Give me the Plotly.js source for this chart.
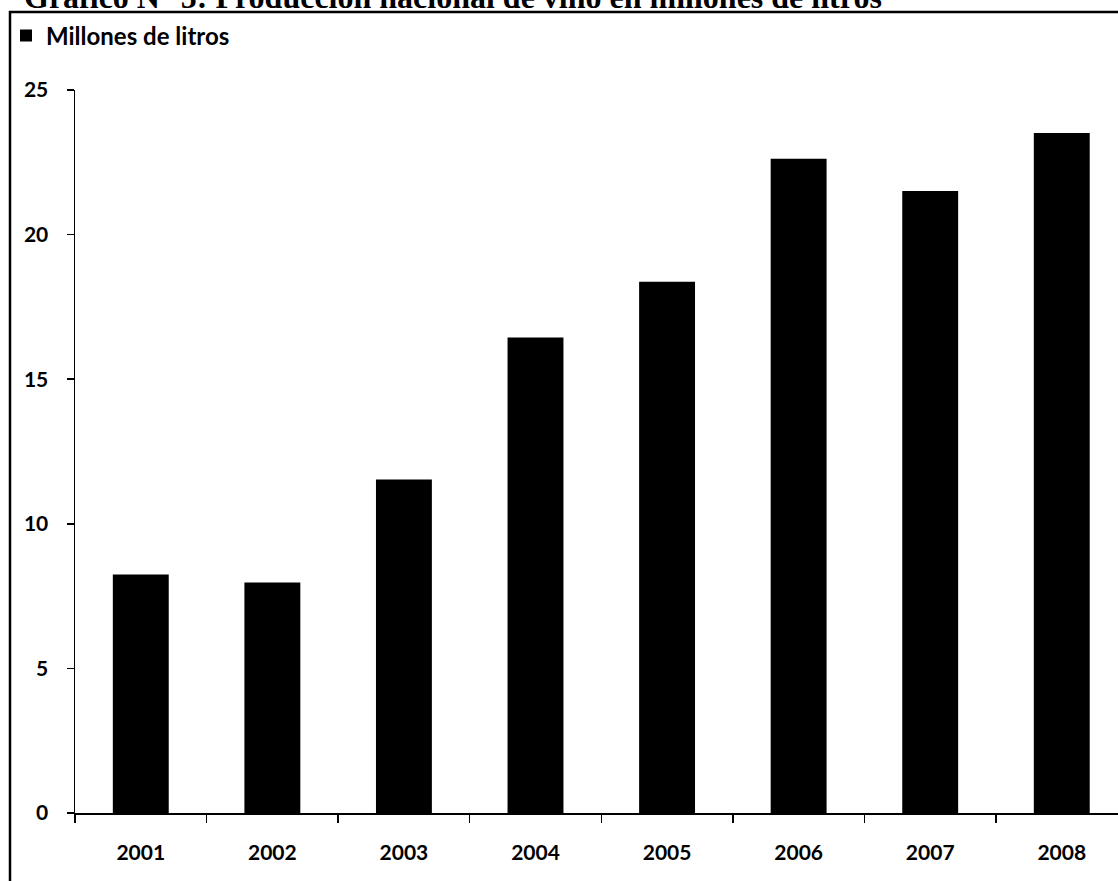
<!DOCTYPE html>
<html>
<head>
<meta charset="utf-8">
<script src="https://cdn.plot.ly/plotly-3.0.1.min.js"></script>
<style>html,body{margin:0;padding:0;background:#fff;}#chart{width:1118px;height:881px;}</style>
</head>
<body>
<div id="chart"></div>
<script>
// Data
const years = ['2001', '2002', '2003', '2004', '2005', '2006', '2007', '2008'];
const millonesLitros = [8.25, 7.97, 11.53, 16.44, 18.37, 22.62, 21.51, 23.51];
const yTicks = [0, 5, 10, 15, 20, 25];
const seriesName = 'Millones de litros';
const chartTitle = 'Gráfico N° 5: Producción nacional de vino en millones de litros';

const W = 1118, H = 881;
const mL = 75, mR = 0, mT = 90, mB = 68;
const pw = W - mL - mR, ph = H - mT - mB;
const px2x = p => (p - mL) / pw;
const py2y = p => (H - mB - p) / ph;

const trace = {
  type: 'bar',
  x: years,
  y: millonesLitros,
  name: seriesName,
  marker: {color: '#000000', line: {width: 0}},
  showlegend: true,
  hoverinfo: 'x+y'
};

const tickFont = {family: 'Lato, "Open Sans", sans-serif', size: 21, color: '#000', weight: 'bold'};

const layout = {
  width: W, height: H, autosize: false,
  margin: {l: mL, r: mR, t: mT, b: mB, pad: 0},
  paper_bgcolor: '#ffffff', plot_bgcolor: '#ffffff',
  bargap: 0.575,
  showlegend: true,
  legend: {
    x: px2x(6), y: py2y(36), xanchor: 'left', yanchor: 'middle',
    font: {family: 'Lato, "Open Sans", sans-serif', size: 24, color: '#000', weight: 'bold'},
    bgcolor: 'rgba(0,0,0,0)', borderwidth: 0
  },
  xaxis: {
    type: 'category',
    range: [-0.5, -0.5 + pw / 131.57],
    tickson: 'boundaries',
    ticks: 'outside', ticklen: 8, tickwidth: 1.5, tickcolor: '#000',
    showline: true, linecolor: '#000', linewidth: 2,
    showgrid: false, zeroline: false,
    tickfont: tickFont,
    ticklabelstandoff: 20,
    fixedrange: true
  },
  yaxis: {
    range: [0, 25],
    tickvals: yTicks,
    ticktext: yTicks.map(String),
    ticks: 'outside', ticklen: 7, tickwidth: 1.5, tickcolor: '#000',
    showline: true, linecolor: '#000', linewidth: 1.5,
    showgrid: false, zeroline: false,
    tickfont: tickFont,
    ticklabelstandoff: 14,
    fixedrange: true
  },
  annotations: [{
    text: '<b>' + chartTitle + '</b>',
    xref: 'paper', yref: 'paper',
    x: px2x(22), y: py2y(-3),
    xanchor: 'left', yanchor: 'middle',
    showarrow: false,
    font: {family: '"Liberation Serif", "Times New Roman", serif', size: 32, color: '#000'}
  }],
  shapes: [{
    type: 'rect', xref: 'paper', yref: 'paper',
    x0: px2x(10), x1: px2x(W + 20), y0: py2y(H + 20), y1: py2y(12),
    line: {color: '#000', width: 2.5}, fillcolor: 'rgba(0,0,0,0)', layer: 'above'
  }]
};

Plotly.newPlot('chart', [trace], layout, {displayModeBar: false, staticPlot: true});
</script>
</body>
</html>
